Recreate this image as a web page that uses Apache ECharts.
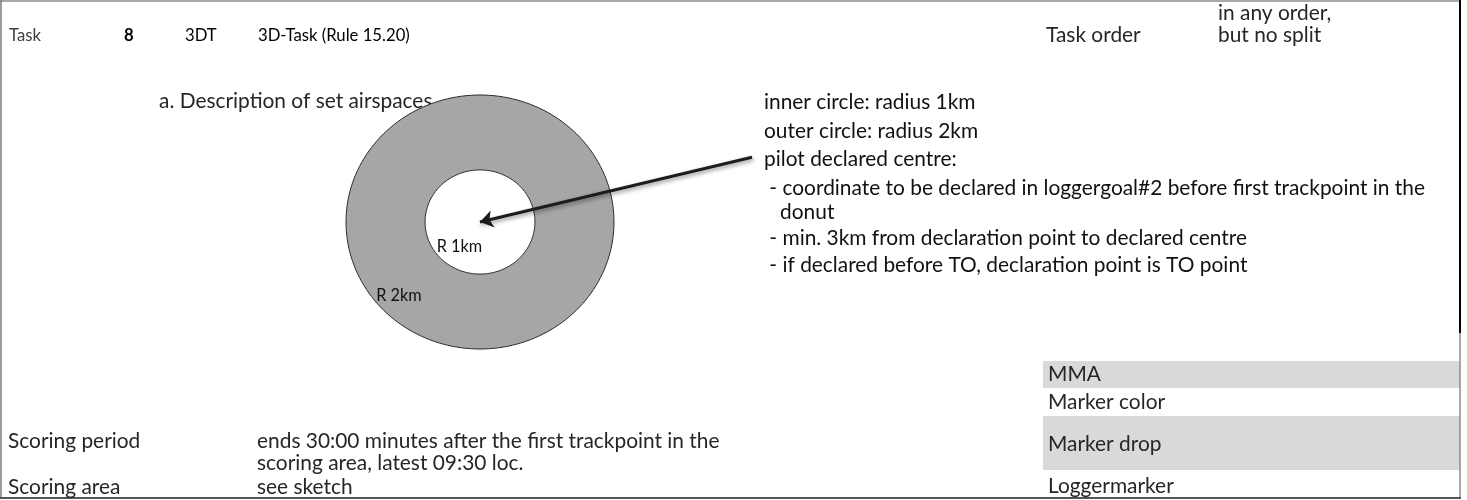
<!DOCTYPE html>
<html><head><meta charset="utf-8">
<script src="https://cdn.jsdelivr.net/npm/echarts@6/dist/echarts.min.js"></script>
<style>html,body{margin:0;padding:0;background:#fff}#c{width:1467px;height:500px}</style>
</head><body><div id="c"></div>
<script>
// ---- data ----
const ringLabels = ['R 2km', 'R 1km'];
const ringSketchRadius = [2, 0.82];      // radii as drawn in the sketch (km units, sketch not to scale)
const declaredCentre = [0, 0];
const arrowTail = [4.06, 1.02];
const headerTexts = ['Task', '8', '3DT', '3D-Task (Rule 15.20)'];
const taskOrderLabel = 'Task order';
const taskOrderValue = ['in any order,', 'but no split'];
const sectionTitle = 'a. Description of set airspaces';
const descriptionLines = [
  'inner circle: radius 1km',
  'outer circle: radius 2km',
  'pilot declared centre:',
  ' - coordinate to be declared in loggergoal#2 before first trackpoint in the',
  '   donut',
  ' - min. 3km from declaration point to declared centre',
  ' - if declared before TO, declaration point is TO point'
];
const mmaRows = ['MMA', 'Marker color', 'Marker drop', 'Loggermarker'];
const scoringLabels = ['Scoring period', 'Scoring area'];
const scoringValues = [['ends 30:00 minutes after the first trackpoint in the', 'scoring area, latest 09:30 loc.'], ['see sketch']];

// ---- font fit ----
const FONT = 'Lato';
const cv = document.createElement('canvas').getContext('2d');
cv.font = '16px ' + FONT;
const fs = Math.round(16 * 462 / cv.measureText(scoringValues[0][0]).width * 10) / 10;
const hfs = (fs * 0.8).toFixed(1);
const TXT = '#262626';

function t(x, y, text, extra) {
  return {
    type: 'text', x: x, y: y, silent: true,
    style: Object.assign({ text: text, fill: TXT, font: fs + 'px ' + FONT, verticalAlign: 'middle' }, extra || {})
  };
}

const graphics = [];
// gray rows
graphics.push({ type: 'rect', shape: { x: 1043, y: 361, width: 417, height: 27 }, style: { fill: '#d9d9d9' }, silent: true });
graphics.push({ type: 'rect', shape: { x: 1043, y: 416, width: 417, height: 54 }, style: { fill: '#d9d9d9' }, silent: true });
// borders
graphics.push({ type: 'line', shape: { x1: 0, y1: 1, x2: 1461, y2: 1 }, style: { stroke: '#8c8c8c', lineWidth: 1.5 }, silent: true });
graphics.push({ type: 'line', shape: { x1: 1, y1: 0, x2: 1, y2: 499 }, style: { stroke: '#7a7a7a', lineWidth: 1.5 }, silent: true });
graphics.push({ type: 'line', shape: { x1: 1460, y1: 0, x2: 1460, y2: 333 }, style: { stroke: '#000', lineWidth: 2 }, silent: true });
graphics.push({ type: 'line', shape: { x1: 1460, y1: 333, x2: 1460, y2: 498 }, style: { stroke: '#8c8c8c', lineWidth: 1.5 }, silent: true });
graphics.push({ type: 'line', shape: { x1: 0, y1: 498, x2: 1461, y2: 498 }, style: { stroke: '#555', lineWidth: 2 }, silent: true });

// header
graphics.push(t(9, 36, headerTexts[0], { fill: '#404040', font: hfs + 'px ' + FONT }));
graphics.push(t(124, 36, headerTexts[1], { fill: '#000', font: 'bold ' + hfs + 'px ' + FONT }));
graphics.push(t(185, 36, headerTexts[2], { fill: '#000', font: hfs + 'px ' + FONT }));
graphics.push(t(258, 36, headerTexts[3], { fill: '#000', font: hfs + 'px ' + FONT }));
graphics.push(t(1046, 35, taskOrderLabel));
graphics.push(t(1218, 13, taskOrderValue[0]));
graphics.push(t(1218, 35, taskOrderValue[1]));
// section
graphics.push(t(159, 101, sectionTitle));
const descY = [102, 131, 159, 188, 212, 238, 265];
descriptionLines.forEach((s, i) => graphics.push(t(764, descY[i], s, { fill: '#111' })));
// MMA
const mmaY = [374, 402, 444, 486];
mmaRows.forEach((s, i) => graphics.push(t(1048, mmaY[i], s)));
// scoring
graphics.push(t(8, 441, scoringLabels[0]));
graphics.push(t(257, 441, scoringValues[0][0]));
graphics.push(t(257, 463, scoringValues[0][1]));
graphics.push(t(8, 487, scoringLabels[1]));
graphics.push(t(257, 487, scoringValues[1][0]));

const ringData = ringSketchRadius.map((r, i) => [declaredCentre[0], declaredCentre[1], r, i]);
const labelAngle = [217, 211];
const labelDist = [0.97, 0.92];

const option = {
  animation: false,
  grid: { left: 346, width: 268, top: 95, height: 254 },
  xAxis: { type: 'value', min: -2, max: 2, show: false },
  yAxis: { type: 'value', min: -2, max: 2, show: false },
  graphic: graphics,
  series: [
    {
      type: 'custom',
      coordinateSystem: 'cartesian2d',
      clip: false,
      silent: true,
      data: ringData,
      encode: { x: 0, y: 1 },
      renderItem: function (params, api) {
        const cx = api.value(0), cy = api.value(1), r = api.value(2), idx = api.value(3);
        const pts = [];
        for (let k = 0; k < 180; k++) {
          const a = k / 180 * Math.PI * 2;
          pts.push(api.coord([cx + r * Math.cos(a), cy + r * Math.sin(a)]));
        }
        const ang = labelAngle[idx] / 180 * Math.PI;
        const d = labelDist[idx];
        const lp = api.coord([cx + d * r * Math.cos(ang), cy + d * r * Math.sin(ang)]);
        return {
          type: 'group',
          children: [
            { type: 'polygon', shape: { points: pts, smooth: 0 }, z2: idx * 10,
              style: { fill: idx === 0 ? '#a6a6a6' : '#ffffff', stroke: '#2b2b2b', lineWidth: 1 } },
            { type: 'text', x: lp[0], y: lp[1], z2: idx * 10 + 5,
              style: { text: ringLabels[idx], fill: '#111', font: (fs * 0.78).toFixed(1) + 'px ' + FONT, align: 'left', verticalAlign: 'middle' } }
          ]
        };
      },
      z: 2
    },
    {
      type: 'lines',
      coordinateSystem: 'cartesian2d',
      clip: false,
      silent: true,
      symbol: ['none', 'arrow'],
      symbolSize: [0, 13],
      lineStyle: { color: '#1c1c1c', width: 3, opacity: 1, shadowBlur: 4, shadowColor: 'rgba(0,0,0,0.45)', shadowOffsetX: 1, shadowOffsetY: 2 },
      data: [{ coords: [arrowTail, declaredCentre] }],
      z: 5
    }
  ]
};
const chart = echarts.init(document.getElementById('c'), null, { renderer: 'canvas' });
chart.setOption(option);
</script>
</body></html>
